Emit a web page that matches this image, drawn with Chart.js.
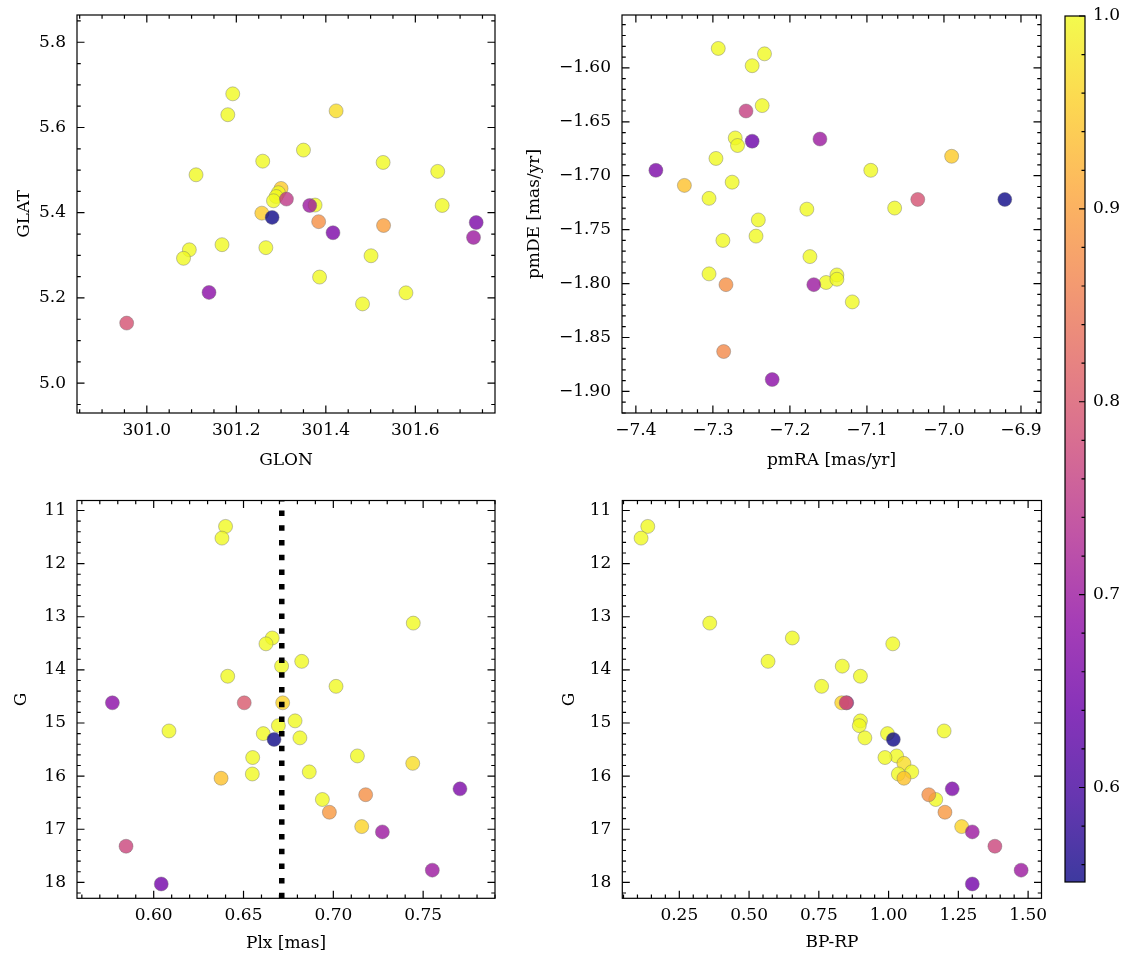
<!DOCTYPE html>
<html>
<head>
<meta charset="utf-8">
<script src="https://cdn.jsdelivr.net/npm/chart.js@4"></script>
<style>
  html, body { margin: 0; padding: 0; background: #fff; }
  #wrap { position: relative; width: 1133px; height: 965px; overflow: hidden; background: #fff; }
  canvas { position: absolute; }
</style>
</head>
<body>
<div id="wrap">
  <canvas id="cA" width="560" height="485" style="left:0px;top:0px"></canvas>
  <canvas id="cB" width="600" height="485" style="left:500px;top:0px"></canvas>
  <canvas id="cC" width="560" height="480" style="left:0px;top:485px"></canvas>
  <canvas id="cD" width="600" height="480" style="left:500px;top:485px"></canvas>
  <canvas id="cE" width="93" height="965" style="left:1040px;top:0px"></canvas>
</div>
<script>
// ---------------- DATA ----------------
// Panel A: galactic coordinates
const glon = [301.192, 301.181, 301.423, 301.350, 301.259, 301.528, 301.110, 301.650, 301.300, 301.294, 301.289, 301.283, 301.312, 301.376, 301.364, 301.660, 301.257, 301.280, 301.384, 301.529, 301.736, 301.416, 301.730, 301.168, 301.095, 301.082, 301.266, 301.501, 301.386, 301.579, 301.482, 301.139, 300.955];
const glat = [5.679, 5.630, 5.639, 5.547, 5.521, 5.518, 5.489, 5.497, 5.457, 5.447, 5.438, 5.428, 5.432, 5.418, 5.417, 5.417, 5.399, 5.389, 5.379, 5.370, 5.377, 5.353, 5.342, 5.325, 5.313, 5.293, 5.318, 5.299, 5.249, 5.212, 5.186, 5.213, 5.141];
const probA = [1, 1, 0.97, 1, 1, 1, 1, 1, 0.95, 1, 1, 1, 0.75, 1, 0.70, 1, 0.95, 0.551, 0.88, 0.90, 0.66, 0.66, 0.70, 1, 1, 1, 1, 1, 1, 1, 1, 0.68, 0.79];

// Panel B: proper motions
const pmra = [-7.293, -7.233, -7.249, -7.236, -7.257, -7.271, -7.268, -7.249, -7.161, -7.296, -7.374, -7.095, -6.990, -7.337, -7.275, -7.305, -7.034, -6.921, -7.178, -7.064, -7.241, -7.244, -7.287, -7.174, -7.305, -7.283, -7.153, -7.169, -7.139, -7.139, -7.119, -7.286, -7.223];
const pmde = [-1.582, -1.587, -1.598, -1.635, -1.640, -1.665, -1.672, -1.668, -1.666, -1.684, -1.695, -1.695, -1.682, -1.709, -1.706, -1.721, -1.722, -1.722, -1.731, -1.730, -1.741, -1.756, -1.760, -1.775, -1.791, -1.801, -1.799, -1.801, -1.792, -1.796, -1.817, -1.863, -1.889];
const probB = [1, 1, 1, 1, 0.76, 1, 1, 0.64, 0.70, 1, 0.66, 1, 0.95, 0.94, 1, 1, 0.79, 0.551, 1, 1, 1, 1, 1, 1, 1, 0.88, 1, 0.70, 1, 1, 1, 0.87, 0.68];

// Panels C and D: photometry / parallax (same stars)
const gmag = [11.30, 11.52, 13.12, 13.40, 13.51, 13.84, 13.93, 14.12, 14.31, 14.62, 14.62, 14.62, 14.96, 15.05, 15.15, 15.20, 15.28, 15.31, 15.62, 15.65, 15.76, 15.92, 15.96, 16.04, 16.24, 16.44, 16.35, 16.68, 16.95, 17.05, 17.32, 17.77, 18.03];
const plx  = [0.640, 0.638, 0.7445, 0.666, 0.6625, 0.6824, 0.6712, 0.6412, 0.7015, 0.6718, 0.5770, 0.6504, 0.6787, 0.6694, 0.6085, 0.6610, 0.6814, 0.6670, 0.7134, 0.6551, 0.7442, 0.6866, 0.6549, 0.6375, 0.7705, 0.6939, 0.7180, 0.6978, 0.7158, 0.7273, 0.5846, 0.7551, 0.6042];
const bprp = [0.137, 0.113, 0.359, 0.655, 1.015, 0.568, 0.834, 0.899, 0.760, 0.832, 0.850, 0.848, 0.899, 0.895, 1.199, 0.996, 0.915, 1.017, 1.029, 0.987, 1.055, 1.083, 1.035, 1.055, 1.228, 1.169, 1.144, 1.202, 1.262, 1.300, 1.381, 1.475, 1.300];
const probC = [1, 1, 1, 1, 1, 1, 1, 1, 1, 0.96, 0.68, 0.80, 1, 1, 1, 1, 1, 0.551, 1, 1, 0.97, 1, 1, 0.94, 0.66, 1, 0.88, 0.89, 0.96, 0.70, 0.77, 0.70, 0.65];
const plxRef = [0.6713];

// Axis ranges
const glonRange = [300.844, 301.778];
const glatRange = [4.930, 5.864];
const pmraRange = [-7.418, -6.874];
const pmdeRange = [-1.920, -1.551];
const plxRange  = [0.5573, 0.7900];
const gRange    = [10.812, 18.300];
const bprpRange = [0.0457, 1.548];
const probRange = [0.551, 1.0];

// Tick values and labels
const glonTicks = [301.0, 301.2, 301.4, 301.6];
const glonLabels = ['301.0', '301.2', '301.4', '301.6'];
const glatTicks = [5.0, 5.2, 5.4, 5.6, 5.8];
const glatLabels = ['5.0', '5.2', '5.4', '5.6', '5.8'];
const pmraTicks = [-7.4, -7.3, -7.2, -7.1, -7.0, -6.9];
const pmraLabels = ['\u22127.4', '\u22127.3', '\u22127.2', '\u22127.1', '\u22127.0', '\u22126.9'];
const pmdeTicks = [-1.90, -1.85, -1.80, -1.75, -1.70, -1.65, -1.60];
const pmdeLabels = ['\u22121.90', '\u22121.85', '\u22121.80', '\u22121.75', '\u22121.70', '\u22121.65', '\u22121.60'];
const plxTicks = [0.60, 0.65, 0.70, 0.75];
const plxLabels = ['0.60', '0.65', '0.70', '0.75'];
const gTicks = [11, 12, 13, 14, 15, 16, 17, 18];
const gLabels = ['11', '12', '13', '14', '15', '16', '17', '18'];
const bprpTicks = [0.25, 0.50, 0.75, 1.00, 1.25, 1.50];
const bprpLabels = ['0.25', '0.50', '0.75', '1.00', '1.25', '1.50'];
const probTicks = [0.6, 0.7, 0.8, 0.9, 1.0];
const probLabels = ['0.6', '0.7', '0.8', '0.9', '1.0'];

// ---------------- STYLE ----------------
const FONT = "'DejaVu Serif', 'Liberation Serif', serif";
const FS = 17;
Chart.defaults.font.family = FONT;
Chart.defaults.color = '#000';

const PLASMA = [[13,8,135],[65,4,157],[106,0,168],[143,13,164],[177,42,144],[204,71,120],[225,100,98],[242,132,75],[252,166,54],[252,206,37],[240,249,33]];
function plasma(t) {
  t = Math.min(1, Math.max(0, t));
  const f = t * 10, i = Math.min(9, Math.floor(f)), u = f - i;
  const a = PLASMA[i], b = PLASMA[i + 1];
  return a.map((c, k) => Math.round(c + (b[k] - c) * u));
}
function pColor(p) {
  const [r, g, b] = plasma((p - probRange[0]) / (probRange[1] - probRange[0]));
  return `rgba(${r},${g},${b},0.8)`;
}

const frameTicks = {
  id: 'frameTicks',
  beforeDatasetsDraw(chart, args, o) {
    if (!o.gradient) return;
    const {ctx, chartArea: a} = chart;
    const s = chart.scales.y;
    const y0 = s.getPixelForValue(s.min), y1 = s.getPixelForValue(s.max);
    const g = ctx.createLinearGradient(0, y0, 0, y1);
    PLASMA.forEach((c, i) => g.addColorStop(i / 10, `rgba(${c[0]},${c[1]},${c[2]},0.8)`));
    ctx.save();
    ctx.fillStyle = g;
    ctx.fillRect(a.left, a.top, a.right - a.left, a.bottom - a.top);
    ctx.restore();
  },
  afterDatasetsDraw(chart, args, o) {
    const {ctx, chartArea: a} = chart;
    ctx.save();
    ctx.strokeStyle = '#000';
    ctx.lineWidth = o.lineWidth;
    ctx.beginPath();
    const mk = (scale, vals, len) => {
      for (const v of vals) {
        const p = scale.getPixelForValue(v);
        if (scale.isHorizontal()) {
          if (p < a.left - 0.5 || p > a.right + 0.5) continue;
          if (o.sides.includes('bottom')) { ctx.moveTo(p, a.bottom); ctx.lineTo(p, a.bottom - len); }
          if (o.sides.includes('top')) { ctx.moveTo(p, a.top); ctx.lineTo(p, a.top + len); }
        } else {
          if (p < a.top - 0.5 || p > a.bottom + 0.5) continue;
          if (o.sides.includes('left')) { ctx.moveTo(a.left, p); ctx.lineTo(a.left + len, p); }
          if (o.sides.includes('right')) { ctx.moveTo(a.right, p); ctx.lineTo(a.right - len, p); }
        }
      }
    };
    const minors = (scale, step, majors) => {
      const out = [];
      const lo = Math.min(scale.min, scale.max), hi = Math.max(scale.min, scale.max);
      const n0 = Math.ceil(lo / step - 1e-6), n1 = Math.floor(hi / step + 1e-6);
      for (let n = n0; n <= n1; n++) {
        const v = n * step;
        if (!majors.some(m => Math.abs(m - v) < step * 1e-3)) out.push(v);
      }
      return out;
    };
    for (const ax of o.axes) {
      const s = chart.scales[ax.id];
      mk(s, ax.major, o.majorLen);
      mk(s, minors(s, ax.minorStep, ax.major), o.minorLen);
    }
    ctx.stroke();
    ctx.strokeRect(a.left, a.top, a.right - a.left, a.bottom - a.top);
    ctx.restore();
  }
};

function axisCfg(c) {
  return {
    type: 'linear',
    position: c.position,
    min: c.range[0], max: c.range[1],
    reverse: !!c.reverse,
    grid: { display: false, drawTicks: false },
    border: { display: false },
    afterBuildTicks: s => { s.ticks = c.ticks.map(v => ({ value: v })); },
    afterFit: s => {
      if (c.position === 'bottom') { s.height = c.fit; s.paddingLeft = 0; s.paddingRight = 0; }
      else { s.width = c.fit; s.paddingTop = 0; s.paddingBottom = 0; }
    },
    ticks: {
      callback: (v, i) => c.labels[i],
      padding: c.tickPad,
      color: '#000',
      autoSkip: false, maxRotation: 0, minRotation: 0,
      font: { family: FONT, size: FS }
    },
    title: {
      display: !!c.title,
      text: c.title || '',
      color: '#000',
      font: { family: FONT, size: FS },
      padding: c.position === 'bottom' ? { top: 0, bottom: c.titlePad } : { top: c.titlePad, bottom: 0 }
    }
  };
}

function scatterSet(xs, ys, ps) {
  return {
    type: 'scatter',
    order: 2,
    data: xs.map((x, i) => ({ x: x, y: ys[i] })),
    backgroundColor: ps.map(pColor),
    borderColor: 'rgba(110,110,110,0.7)',
    borderWidth: 0.6,
    pointRadius: 7,
    pointHoverRadius: 7
  };
}

function makePanel(id, pad, datasets, xc, yc, tickOpts) {
  return new Chart(document.getElementById(id), {
    type: 'scatter',
    data: { datasets: datasets },
    options: {
      responsive: false,
      animation: false,
      events: [],
      layout: { padding: pad },
      scales: { x: axisCfg(xc), y: axisCfg(yc) },
      plugins: {
        legend: { display: false },
        tooltip: { enabled: false },
        frameTicks: Object.assign({ lineWidth: 1.2, majorLen: 7.5, minorLen: 3.75, sides: ['left', 'right', 'top', 'bottom'] }, tickOpts)
      }
    },
    plugins: [frameTicks]
  });
}

// Panel A
makePanel('cA', { left: 0, top: 15, right: 65, bottom: 0 },
  [scatterSet(glon, glat, probA)],
  { position: 'bottom', range: glonRange, ticks: glonTicks, labels: glonLabels, title: 'GLON', fit: 72, tickPad: 7, titlePad: 14 },
  { position: 'left', range: glatRange, ticks: glatTicks, labels: glatLabels, title: 'GLAT', fit: 77, tickPad: 11, titlePad: 14 },
  { axes: [{ id: 'x', major: glonTicks, minorStep: 0.05 }, { id: 'y', major: glatTicks, minorStep: 0.05 }] });

// Panel B
makePanel('cB', { left: 0, top: 15, right: 59, bottom: 0 },
  [scatterSet(pmra, pmde, probB)],
  { position: 'bottom', range: pmraRange, ticks: pmraTicks, labels: pmraLabels, title: 'pmRA [mas/yr]', fit: 72, tickPad: 7, titlePad: 14 },
  { position: 'left', range: pmdeRange, ticks: pmdeTicks, labels: pmdeLabels, title: 'pmDE [mas/yr]', fit: 122, tickPad: 11, titlePad: 24 },
  { axes: [{ id: 'x', major: pmraTicks, minorStep: 0.02 }, { id: 'y', major: pmdeTicks, minorStep: 0.01 }] });

// Panel C
const refLine = {
  type: 'scatter',
  order: 0,
  showLine: true,
  data: [{ x: plxRef[0], y: gRange[1] }, { x: plxRef[0], y: gRange[0] }],
  borderColor: '#000',
  borderWidth: 5.5,
  borderDash: [5.5, 9.2],
  borderCapStyle: 'butt',
  pointRadius: 0,
  pointHoverRadius: 0
};
makePanel('cC', { left: 0, top: 15.5, right: 65, bottom: 0 },
  [refLine, scatterSet(plx, gmag, probC)],
  { position: 'bottom', range: plxRange, ticks: plxTicks, labels: plxLabels, title: 'Plx [mas]', fit: 66.7, tickPad: 7, titlePad: 11 },
  { position: 'left', range: gRange, reverse: true, ticks: gTicks, labels: gLabels, title: 'G', fit: 77, tickPad: 11, titlePad: 11 },
  { axes: [{ id: 'x', major: plxTicks, minorStep: 0.01 }, { id: 'y', major: gTicks, minorStep: 0.2 }] });

// Panel D
makePanel('cD', { left: 0, top: 15.5, right: 58.5, bottom: 0 },
  [scatterSet(bprp, gmag, probC)],
  { position: 'bottom', range: bprpRange, ticks: bprpTicks, labels: bprpLabels, title: 'BP-RP', fit: 66.7, tickPad: 7, titlePad: 12 },
  { position: 'left', range: gRange, reverse: true, ticks: gTicks, labels: gLabels, title: 'G', fit: 122.3, tickPad: 11, titlePad: 59 },
  { axes: [{ id: 'x', major: bprpTicks, minorStep: 0.05 }, { id: 'y', major: gTicks, minorStep: 0.2 }] });

// Colorbar
new Chart(document.getElementById('cE'), {
  type: 'scatter',
  data: { datasets: [] },
  options: {
    responsive: false,
    animation: false,
    events: [],
    layout: { padding: { left: 25, top: 16, right: 0, bottom: 83 } },
    scales: {
      x: { type: 'linear', display: false, min: 0, max: 1 },
      y: axisCfg({ position: 'right', range: probRange, ticks: probTicks, labels: probLabels, fit: 48, tickPad: 8 })
    },
    plugins: {
      legend: { display: false },
      tooltip: { enabled: false },
      frameTicks: { lineWidth: 1.2, majorLen: 6, minorLen: 3.5, sides: ['right'], gradient: true,
        axes: [{ id: 'y', major: probTicks, minorStep: 0.02 }] }
    }
  },
  plugins: [frameTicks]
});
</script>
</body>
</html>
